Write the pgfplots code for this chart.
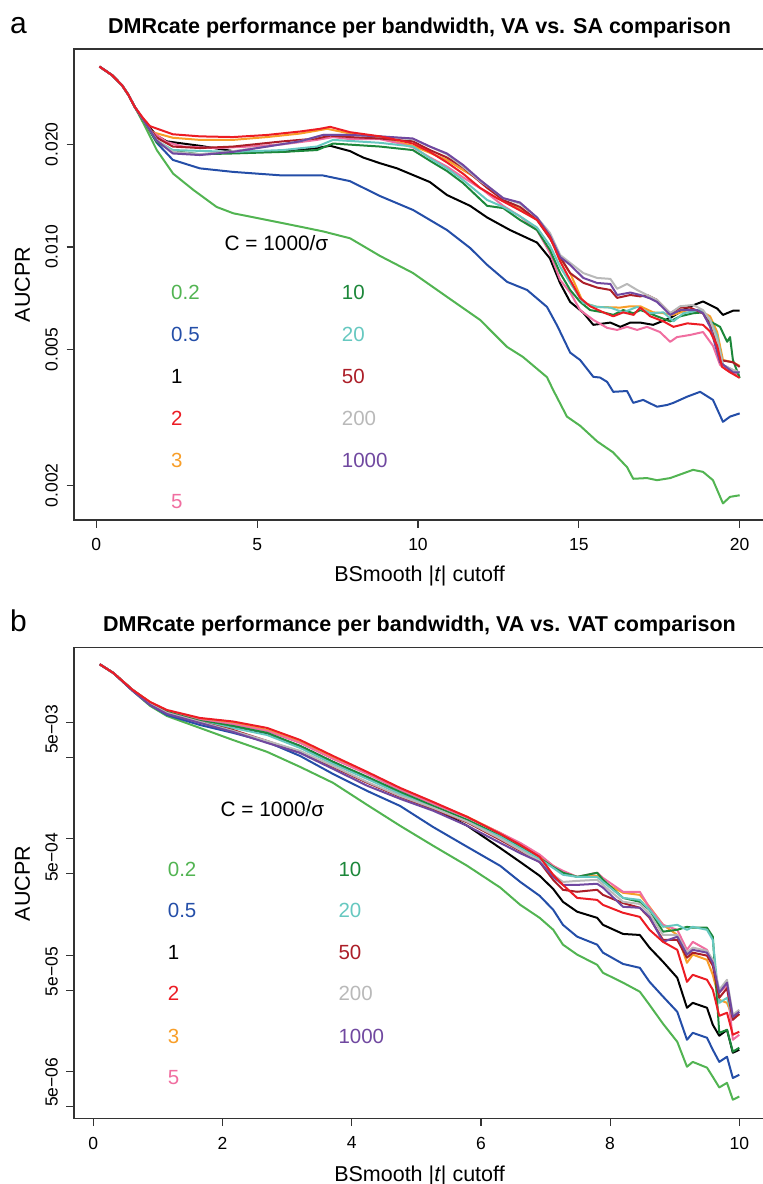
\documentclass[border=0pt]{standalone}
\usepackage{fontspec}
\setmainfont{Liberation Sans}
\usepackage{pgfplots}
\usepackage{pgfplotstable}
\pgfplotsset{compat=1.18}
\definecolor{cA}{RGB}{82,180,82}
\definecolor{cB}{RGB}{36,78,168}
\definecolor{cC}{RGB}{0,0,0}
\definecolor{cD}{RGB}{236,28,36}
\definecolor{cE}{RGB}{248,158,40}
\definecolor{cF}{RGB}{240,110,160}
\definecolor{cG}{RGB}{28,135,58}
\definecolor{cH}{RGB}{102,200,192}
\definecolor{cI}{RGB}{172,30,40}
\definecolor{cJ}{RGB}{185,185,185}
\definecolor{cK}{RGB}{112,72,160}
\newcommand\fs[1]{\fontsize{#1}{#1}\selectfont}
\pgfplotsset{
 mypanel/.style={
  anchor=north west, width=691pt, height=471pt, scale only axis,
  axis line style={line width=1.2pt, black!80},
  tick style={line width=1.2pt, black!80},
  tick align=outside, major tick length=7.5pt,
  xtick pos=bottom, ytick pos=left,
  xminorticks=false, yminorticks=false,
  every tick label/.append style={font=\fs{17.5}, inner sep=0pt},
  yticklabel style={rotate=90, anchor=south},
  xticklabel style={anchor=north},
  yticklabel shift=8.5pt,
  xticklabel shift=10.5pt,
  every axis plot/.append style={line width=2pt, line join=round, no marks},
 }
}
\pgfplotstableread{
x g02 b05 k1 r2 o3 p5 g10 t20 d50 s200 v1000
0.1 .03147 .03147 .03147 .03147 .03147 .03147 .03147 .03147 .03147 .03147 .03147
0.31 .0265 .0265 .0265 .0265 .0265 .0265 .0265 .0265 .0265 .0265 .0265
0.61 .0186 .0186 .01894 .01894 .01894 .01894 .01894 .01894 .01894 .01894 .0186
0.88 .0138 .01407 .01464 .01493 .01493 .01464 .01464 .01435 .01435 .01435 .01407
1.14 .01131 .01155 .01227 .01275 .0125 .01227 .01227 .01203 .01203 .01203 .01179
1.65 .00894 .00948 .01025 .01089 .01067 .01046 .01025 .01006 .01006 .01006 .00987
2.16 .00705 .00812 .00912 .01016 .00987 .00966 .0093 .00894 .00859 .00843 .00826
2.69 .00557 .00678 .00794 .00894 .00859 .00843 .00812 .00778 .00691 .00691 .00665
3.20 .00414 .00514 .00626 .00705 .00678 .00665 .00626 .00602 .00557 .00568 .00545
3.71 .00302 .0036 .00457 .00514 .00494 .00485 .00457 .00439 .00414 .00422 .00398
4.24 .00195 .00257 .00333 .003745 .00367 .0036 .0034 .00326 .00302 .00307 .00285
4.75 .00129 .00191 .00243 .00273 .00267 .00262 .00252 .00242 .00229 .00233 .0022
5.26 .00087 .00126 .00184 .002069 .00203 .00199 .00191 .00184 .0018 .00184 .00174
5.79 .000584 .00085 .00129 .001539 .00154 .00152 .00145 .0014 .00138 .0014 .00129
6.30 .00038 .000584 .00083 .0011 .00112 .00112 .00106 .00104 .000977 .001 .00092
6.61 .00027 .000425 .00063 .000885 .0009 .00092 .00085 .00083 .000786 .000801 .00075
6.91 .000209 .000323 .00048 .000698 .00071 .00073 .00068 .00067 .00063 .00064 .00063
7.12 .000165 .000245 .00037 .000489 .000584 .000584 .00057 .00056 .000443 .000489 .00047
7.27 .000123 .000182 .000287 .000401 .000519 .00053 .00051 .00049 .000364 .000425 .000401
7.49 .000101 .000144 .000236 .00031 .00047 .00047 .00047 .00047 .00035 .000434 .000401
7.80 8.25e-5 .000123 .000209 .000298 .00048 .00051 .00051 .00047 .000364 .000443 .00041
7.89 7.05e-5 .000105 .000182 .00027 .000425 .00046 .000443 .000425 .000329 .000401 .00038
8.20 5.8e-5 8.4e-5 .000152 .000231 .000343 .00035 .00031 .00031 .00028 .000287 .00026
8.46 4.85e-5 7.78e-5 .000149 .000213 .000329 .00035 .000287 .000298 .000255 .000275 .000255
8.61 3.74e-5 5.9e-5 .000116 .000165 .00026 .000255 .000245 .000245 .000209 .000226 .000213
8.82 2.57e-5 4.4e-5 8.76e-5 .00013 .000182 .000182 .000159 .000175 .000135 .000149 .00013
9.04 1.8e-5 3.26e-5 6.39e-5 .000111 .000149 .000165 .000165 .000182 .000135 .000149 .000144
9.19 1.1e-5 1.875e-5 3.53e-5 5.9e-5 8.59e-5 .000111 .000175 .000165 9.5e-5 .000105 .000101
9.28 1.21e-5 2.15e-5 3.89e-5 6.77e-5 .000101 .00013 .000172 .000175 .000105 .000116 .000111
9.50 1.08e-5 1.95e-5 3.53e-5 6.14e-5 9.11e-5 .000111 .000172 .000165 9.9e-5 .000109 .000105
9.59 9.0e-6 1.538e-5 2.52e-5 5.04e-5 6.77e-5 8.59e-5 .000144 .000135 8.1e-5 9.11e-5 8.59e-5
9.69 7.3e-6 1.21e-5 2.03e-5 3.01e-5 4.13e-5 4.75e-5 2.15e-5 3.89e-5 4.3e-5 5.04e-5 4.75e-5
9.81 8.0e-6 1.34e-5 2.28e-5 3.2e-5 3.89e-5 5.56e-5 2.28e-5 4.3e-5 5.2e-5 6.14e-5 5.8e-5
9.90 5.73e-6 8.8e-6 1.45e-5 2.07e-5 2.9e-5 1.875e-5 1.48e-5 2.9e-5 2.78e-5 3.07e-5 2.95e-5
10.0 6.1e-6 9.38e-6 1.538e-5 2.2e-5 3.07e-5 2.07e-5 1.6e-5 3.26e-5 3.13e-5 3.39e-5 3.26e-5
}\tabB
\begin{document}
\begin{tikzpicture}
\useasboundingbox (0pt,0pt) rectangle (763pt,-1184pt);
% ---------------- panel a
\begin{axis}[ymode=log, mypanel, at={(74pt,-49pt)},
  xmin=-0.693, xmax=20.787, ymin=0.001582, ymax=0.03806,
  xtick={0,5,10,15,20}, xticklabels={0,5,10,15,20},
  ytick={0.002,0.005,0.01,0.02}, yticklabels={0.002,0.005,0.010,0.020}]
\addplot[cA] coordinates {(0.1,0.0338)(0.49,0.0319)(0.80,0.0298)(1.00,0.0279)(1.20,0.0257)(1.46,0.0231)(1.88,0.01924)(2.39,0.0164)(3.02,0.01469)(3.74,0.0131)(4.26,0.01255)(5.30,0.0120)(6.33,0.01147)(7.06,0.0111)(7.89,0.0106)(8.82,0.00941)(9.84,0.00839)(10.90,0.00714)(11.93,0.00611)(12.77,0.00509)(13.26,0.00476)(14.01,0.00415)(14.20,0.00381)(14.63,0.00318)(15.04,0.00299)(15.57,0.00269)(16.06,0.00250)(16.50,0.00226)(16.69,0.00209)(17.12,0.00210)(17.43,0.00207)(17.84,0.00210)(18.55,0.00222)(18.86,0.00219)(19.17,0.00207)(19.48,0.00177)(19.70,0.00185)(20.0,0.00187)};
\addplot[cB] coordinates {(0.1,0.0338)(0.49,0.0319)(0.80,0.0298)(1.00,0.0279)(1.20,0.0257)(1.46,0.0236)(1.88,0.0202)(2.38,0.0180)(3.22,0.0170)(4.25,0.0166)(5.80,0.0162)(7.05,0.0162)(7.88,0.0156)(8.82,0.0141)(9.85,0.01283)(10.90,0.01121)(11.62,0.00993)(12.15,0.00886)(12.77,0.00790)(13.39,0.00748)(14.01,0.00667)(14.33,0.00587)(14.73,0.00490)(15.04,0.00466)(15.45,0.00416)(15.66,0.00414)(15.88,0.00402)(16.07,0.00376)(16.50,0.00378)(16.69,0.00349)(17.00,0.00356)(17.43,0.00340)(17.74,0.00344)(17.94,0.00349)(18.37,0.00364)(18.77,0.00376)(19.17,0.00356)(19.48,0.00307)(19.70,0.00318)(20.0,0.00325)};
\addplot[cC] coordinates {(0.1,0.0338)(0.49,0.0319)(0.80,0.0298)(1.00,0.0279)(1.20,0.0257)(1.45,0.0236)(1.88,0.0212)(2.19,0.0204)(3.22,0.0198)(4.25,0.0191)(5.80,0.0190)(6.86,0.0195)(7.27,0.0198)(7.89,0.0191)(8.29,0.0183)(8.82,0.0176)(9.35,0.0170)(10.37,0.0155)(10.90,0.0142)(11.62,0.0132)(12.15,0.0122)(12.86,0.01121)(13.70,0.0103)(14.10,0.00926)(14.42,0.00782)(14.73,0.00690)(15.14,0.00641)(15.45,0.00591)(15.98,0.00600)(16.29,0.00583)(16.60,0.00600)(16.91,0.00600)(17.31,0.00591)(17.84,0.00619)(18.37,0.00664)(18.86,0.00692)(19.30,0.00660)(19.48,0.00632)(19.79,0.00650)(20.0,0.00650)};
\addplot[cE] coordinates {(0.1,0.0338)(0.49,0.0319)(0.80,0.0298)(1.00,0.0279)(1.20,0.0257)(1.45,0.0237)(1.67,0.0218)(2.38,0.0209)(3.22,0.0206)(4.25,0.0206)(5.31,0.0210)(6.33,0.0215)(7.18,0.0222)(7.89,0.0215)(8.82,0.0209)(9.84,0.0198)(10.90,0.0180)(11.40,0.0168)(11.93,0.0157)(12.65,0.0137)(13.70,0.0121)(14.10,0.0108)(14.42,0.00928)(14.73,0.00838)(15.14,0.00685)(15.57,0.00667)(16.29,0.00664)(16.60,0.00670)(16.91,0.00670)(17.31,0.00643)(17.63,0.00639)(17.94,0.00632)(18.37,0.00653)(18.86,0.00643)(19.08,0.00626)(19.30,0.00563)(19.48,0.00466)(19.79,0.00459)(20.0,0.00448)};
\addplot[cF] coordinates {(0.1,0.0338)(0.49,0.0319)(0.80,0.0298)(1.00,0.0279)(1.20,0.0257)(1.45,0.0237)(1.67,0.0220)(2.19,0.0203)(2.70,0.0197)(3.75,0.0195)(4.78,0.0197)(5.80,0.0200)(6.86,0.0206)(7.36,0.0210)(7.89,0.0207)(8.82,0.0207)(9.35,0.0202)(9.84,0.0196)(10.37,0.0183)(10.90,0.0172)(11.40,0.0160)(12.02,0.01469)(12.65,0.0132)(13.17,0.0123)(13.70,0.01121)(14.10,0.00960)(14.42,0.00800)(14.73,0.00735)(15.04,0.00653)(15.45,0.00611)(15.88,0.00579)(16.19,0.00571)(16.50,0.00583)(16.81,0.00571)(17.12,0.00583)(17.52,0.00563)(17.84,0.00527)(18.05,0.00544)(18.46,0.00552)(18.86,0.00563)(19.17,0.00513)(19.39,0.00451)(19.70,0.00429)(20.0,0.00421)};
\addplot[cG] coordinates {(0.1,0.0338)(0.49,0.0319)(0.80,0.0298)(1.00,0.0279)(1.20,0.0257)(1.45,0.0236)(1.88,0.0203)(2.38,0.0191)(3.22,0.0187)(4.25,0.0188)(5.80,0.0190)(6.86,0.01924)(7.36,0.0201)(8.82,0.0197)(9.84,0.01924)(10.37,0.0179)(10.90,0.0167)(11.40,0.0154)(12.15,0.0132)(12.65,0.0130)(13.17,0.0120)(13.70,0.01121)(14.10,0.00980)(14.42,0.00838)(14.73,0.00748)(15.04,0.00690)(15.35,0.00653)(15.76,0.00643)(16.07,0.00632)(16.38,0.00653)(16.70,0.00639)(16.91,0.00653)(17.12,0.00643)(17.43,0.00626)(17.84,0.00605)(18.15,0.00626)(18.55,0.00639)(18.86,0.00643)(19.08,0.00605)(19.39,0.00583)(19.61,0.00527)(19.70,0.00544)(19.79,0.00466)(20.0,0.00413)};
\addplot[cH] coordinates {(0.1,0.0338)(0.49,0.0319)(0.80,0.0298)(1.00,0.0279)(1.20,0.0257)(1.45,0.0237)(1.88,0.0205)(2.38,0.01924)(4.25,0.0190)(5.80,0.01924)(6.86,0.0197)(7.36,0.0206)(8.82,0.0202)(9.84,0.0197)(10.37,0.0182)(10.90,0.0170)(11.40,0.01572)(12.15,0.01373)(12.65,0.0131)(13.17,0.0123)(13.70,0.0114)(14.10,0.0101)(14.42,0.00874)(14.73,0.00784)(15.14,0.00685)(15.57,0.00667)(15.98,0.00664)(16.38,0.00643)(16.81,0.00667)(17.22,0.00639)(17.63,0.00643)(17.94,0.00605)(18.25,0.00639)(18.77,0.00653)(19.08,0.00611)(19.30,0.00548)(19.48,0.00451)(19.92,0.00429)(20.0,0.00429)};
\addplot[cI] coordinates {(0.1,0.0338)(0.49,0.0319)(0.80,0.0298)(1.00,0.0279)(1.20,0.0257)(1.45,0.0237)(1.88,0.0209)(2.38,0.0197)(3.22,0.0195)(4.25,0.0197)(5.80,0.0204)(6.86,0.0208)(7.27,0.0212)(7.89,0.0210)(8.82,0.0208)(9.84,0.0204)(10.37,0.01924)(10.90,0.0183)(11.40,0.0171)(12.15,0.0149)(12.65,0.01373)(13.17,0.0131)(13.70,0.0120)(14.10,0.0106)(14.42,0.00934)(14.73,0.00838)(15.14,0.00785)(15.57,0.00760)(15.98,0.00748)(16.19,0.00709)(16.60,0.00723)(16.91,0.00716)(17.12,0.00723)(17.43,0.00699)(17.84,0.00639)(18.15,0.00664)(18.46,0.00664)(18.86,0.00639)(19.17,0.00571)(19.39,0.00466)(19.79,0.00459)(20.0,0.00445)};
\addplot[cJ] coordinates {(0.1,0.0338)(0.49,0.0319)(0.80,0.0298)(1.00,0.0279)(1.20,0.0257)(1.45,0.0237)(1.88,0.0206)(2.38,0.0190)(3.22,0.0187)(4.25,0.0191)(5.31,0.0197)(6.33,0.0204)(7.05,0.0213)(7.89,0.0213)(8.82,0.0211)(9.84,0.0207)(10.37,0.0197)(10.90,0.0187)(11.40,0.0172)(11.93,0.0156)(12.24,0.0149)(12.65,0.0139)(13.17,0.0134)(13.70,0.0122)(14.10,0.0110)(14.42,0.00947)(14.73,0.00898)(15.14,0.00838)(15.57,0.00811)(15.98,0.00806)(16.19,0.00754)(16.50,0.00779)(16.81,0.00748)(17.12,0.00723)(17.43,0.00699)(17.84,0.00639)(18.15,0.00670)(18.55,0.00676)(18.86,0.00653)(19.08,0.00611)(19.30,0.00533)(19.48,0.00451)(19.79,0.00436)(20.0,0.00429)};
\addplot[cK] coordinates {(0.1,0.0338)(0.49,0.0319)(0.80,0.0298)(1.00,0.0279)(1.20,0.0257)(1.45,0.0237)(1.88,0.0205)(2.38,0.0188)(3.22,0.0186)(4.25,0.0190)(5.31,0.0197)(6.33,0.0204)(7.05,0.0213)(7.89,0.0213)(8.82,0.0211)(9.84,0.0208)(10.37,0.0197)(10.90,0.0188)(11.40,0.0174)(11.93,0.01572)(12.24,0.0149)(12.65,0.0139)(13.17,0.0135)(13.70,0.0122)(14.10,0.0108)(14.42,0.00934)(14.73,0.00886)(15.14,0.00811)(15.57,0.00784)(15.98,0.00779)(16.19,0.00723)(16.60,0.00735)(16.91,0.00723)(17.22,0.00706)(17.43,0.00690)(17.84,0.00632)(18.15,0.00653)(18.68,0.00653)(18.86,0.00639)(19.08,0.00583)(19.39,0.00459)(19.79,0.00429)(20.0,0.00429)};
\addplot[cD] coordinates {(0.1,0.0338)(0.49,0.0319)(0.80,0.0298)(1.00,0.0279)(1.20,0.0257)(1.45,0.0239)(1.67,0.0226)(2.38,0.0214)(3.22,0.0211)(4.25,0.0210)(5.31,0.0213)(6.33,0.0218)(6.95,0.0222)(7.27,0.0225)(7.89,0.0217)(8.82,0.0211)(9.35,0.0206)(9.84,0.0201)(10.37,0.0190)(10.90,0.0177)(11.40,0.0164)(11.93,0.0149)(12.46,0.0139)(13.17,0.0128)(13.70,0.0120)(14.10,0.0107)(14.42,0.00907)(14.73,0.00800)(15.04,0.00709)(15.35,0.00670)(15.76,0.00643)(16.07,0.00626)(16.38,0.00643)(16.70,0.00632)(16.91,0.00664)(17.22,0.00626)(17.63,0.00605)(17.94,0.00583)(18.37,0.00597)(18.86,0.00591)(19.08,0.00565)(19.30,0.00513)(19.45,0.00445)(19.70,0.00429)(20.0,0.00413)};
\end{axis}
% ---------------- panel b
\begin{axis}[ymode=log, mypanel, at={(74pt,-647.7pt)},
  xmin=-0.299, xmax=10.398, ymin=3.934e-6, ymax=0.04368,
  xtick={0,2,4,6,8,10}, xticklabels={0,2,4,6,8,10},
  ytick={1e-2,5e-3,1e-3,5e-4,1e-4,5e-5,1e-5,5e-6},
  yticklabels={,,,,,,,},
  extra y ticks={0.008726,0.000691,7.23e-5,8.09e-6},
  extra y tick labels={5e−03,5e−04,5e−05,5e−06},
  extra y tick style={major tick style={draw=none}}]
\addplot[cA] table[x=x,y=g02]{\tabB};
\addplot[cB] table[x=x,y=b05]{\tabB};
\addplot[cC] table[x=x,y=k1]{\tabB};
\addplot[cE] table[x=x,y=o3]{\tabB};
\addplot[cF] table[x=x,y=p5]{\tabB};
\addplot[cG] table[x=x,y=g10]{\tabB};
\addplot[cH] table[x=x,y=t20]{\tabB};
\addplot[cI] table[x=x,y=d50]{\tabB};
\addplot[cJ] table[x=x,y=s200]{\tabB};
\addplot[cK] table[x=x,y=v1000]{\tabB};
\addplot[cD] table[x=x,y=r2]{\tabB};
\end{axis}
% ---------------- texts
\node[anchor=base west, inner sep=0pt, font=\fs{30}] at (10pt,-33.3pt) {a};
\node[anchor=base west, inner sep=0pt, font=\fs{30}] at (10pt,-631.5pt) {b};
\node[anchor=base, inner sep=0pt, font=\bfseries\fs{21.5}] at (419.5pt,-33.3pt) {DMRcate performance per bandwidth, VA vs. SA comparison};
\node[anchor=base, inner sep=0pt, font=\bfseries\fs{21.5}] at (419.5pt,-631.5pt) {DMRcate performance per bandwidth, VA vs. VAT comparison};
\node[anchor=base, inner sep=0pt, font=\fs{21.5}] at (419.5pt,-581.7pt) {BSmooth |\textit{t}| cutoff};
\node[anchor=base, inner sep=0pt, font=\fs{21.5}] at (419.5pt,-1181.7pt) {BSmooth |\textit{t}| cutoff};
\node[rotate=90, anchor=base, inner sep=0pt, font=\fs{21.5}] at (30pt,-284.5pt) {AUCPR};
\node[rotate=90, anchor=base, inner sep=0pt, font=\fs{21.5}] at (30pt,-883.4pt) {AUCPR};
\node[anchor=base, inner sep=0pt, font=\fs{20.8}] at (276.5pt,-250pt) {C = 1000/σ};
\node[anchor=base, inner sep=0pt, font=\fs{20.8}] at (272.5pt,-816.5pt) {C = 1000/σ};
\begin{scope}[every node/.style={anchor=west, inner sep=0pt, font=\fs{20.5}}]
\node[text=cA] at (171pt,-292.5pt) {0.2};
\node[text=cB] at (171pt,-334.5pt) {0.5};
\node[text=cC] at (171pt,-376.5pt) {1};
\node[text=cD] at (171pt,-418.5pt) {2};
\node[text=cE] at (171pt,-460pt) {3};
\node[text=cF] at (171pt,-502pt) {5};
\node[text=cG] at (341.7pt,-292.5pt) {10};
\node[text=cH] at (341.7pt,-334.5pt) {20};
\node[text=cI] at (341.7pt,-376.5pt) {50};
\node[text=cJ] at (341.7pt,-418.5pt) {200};
\node[text=cK] at (341.7pt,-460pt) {1000};
\node[text=cA] at (167.7pt,-869pt) {0.2};
\node[text=cB] at (167.7pt,-910.8pt) {0.5};
\node[text=cC] at (167.7pt,-952.5pt) {1};
\node[text=cD] at (167.7pt,-993.5pt) {2};
\node[text=cE] at (167.7pt,-1036pt) {3};
\node[text=cF] at (167.7pt,-1077.5pt) {5};
\node[text=cG] at (338.3pt,-869pt) {10};
\node[text=cH] at (338.3pt,-910.8pt) {20};
\node[text=cI] at (338.3pt,-952.5pt) {50};
\node[text=cJ] at (338.3pt,-993.5pt) {200};
\node[text=cK] at (338.3pt,-1036pt) {1000};
\end{scope}
\end{tikzpicture}
\end{document}
